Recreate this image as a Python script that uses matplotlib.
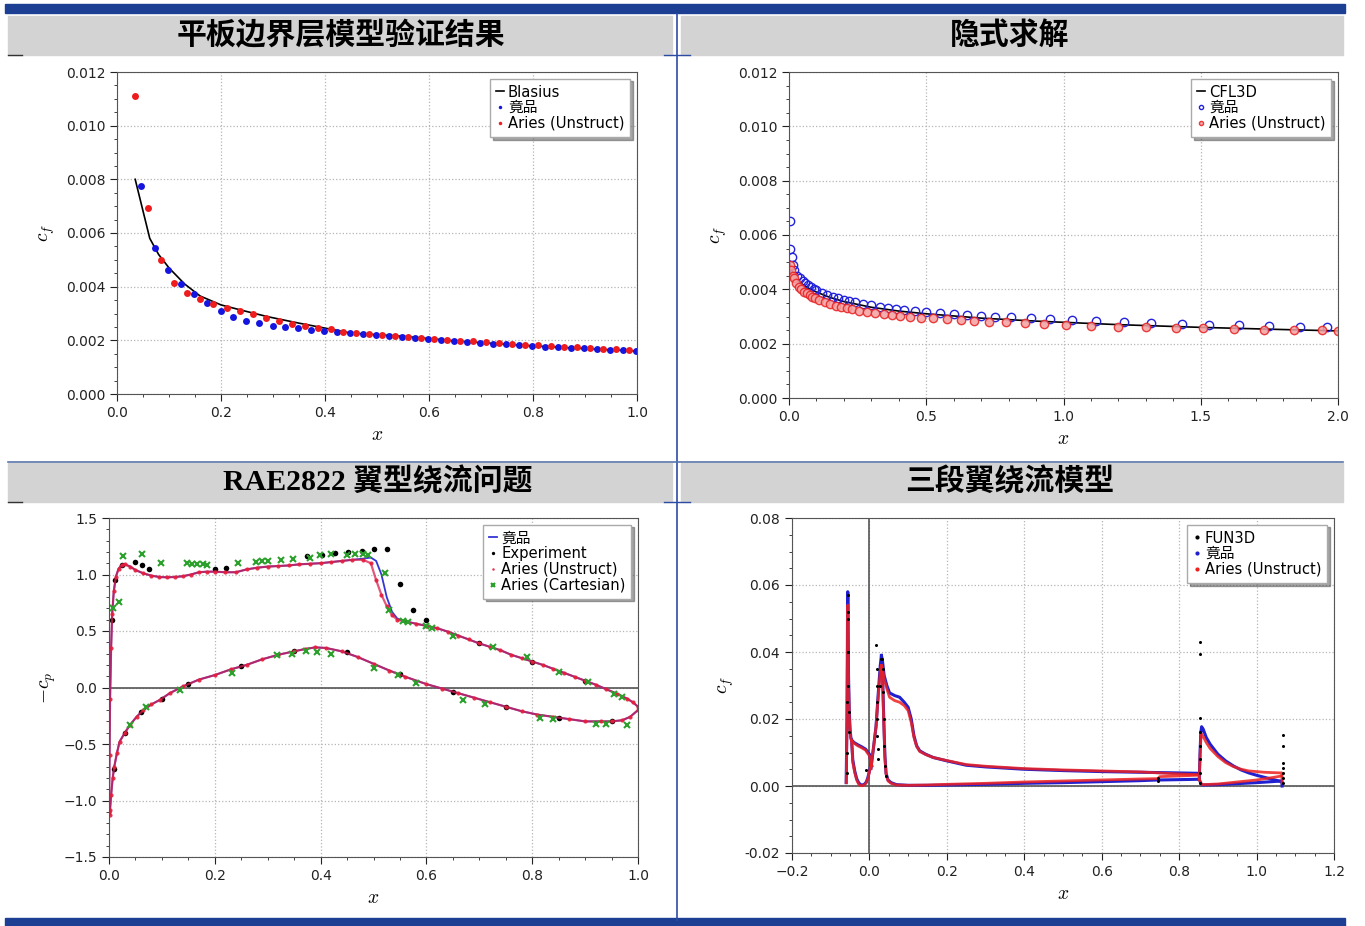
import matplotlib
matplotlib.use('Agg')
import matplotlib.pyplot as plt
from matplotlib.patches import Rectangle
from matplotlib.ticker import MultipleLocator, FormatStrFormatter

plt.rcParams['font.family'] = ['DejaVu Sans', 'Noto Sans CJK SC']
plt.rcParams['mathtext.fontset'] = 'cm'

# ---------------- panel 1 : flat plate ----------------
blasius_x = [0.035, 0.063, 0.08, 0.10, 0.13, 0.16, 0.20, 0.24, 0.29, 0.35, 0.45,
             0.55, 0.65, 0.75, 0.85, 1.0]
blasius_cf = [0.0080, 0.0058, 0.0052, 0.0047, 0.0041, 0.00365, 0.00332, 0.00312,
              0.00288, 0.00264, 0.00227, 0.00215, 0.00198, 0.00185, 0.00174, 0.00160]
jp1_x = [0.047, 0.073, 0.099, 0.123, 0.149, 0.174, 0.2, 0.224, 0.249, 0.274, 0.3,
         0.324, 0.349, 0.374, 0.399, 0.424, 0.449, 0.474, 0.499, 0.524, 0.549, 0.574,
         0.599, 0.624, 0.649, 0.674, 0.699, 0.724, 0.749, 0.774, 0.799, 0.824, 0.849,
         0.874, 0.899, 0.924, 0.949, 0.974, 0.999]
jp1_cf = [0.00775, 0.00545, 0.00462, 0.0041, 0.00373, 0.00338, 0.00309, 0.00288,
          0.00273, 0.00263, 0.00255, 0.00251, 0.00245, 0.0024, 0.00235, 0.00231,
          0.00227, 0.00223, 0.00219, 0.00215, 0.00211, 0.00207, 0.00204, 0.002,
          0.00197, 0.00194, 0.00191, 0.00188, 0.00185, 0.00182, 0.0018, 0.00177,
          0.00175, 0.00172, 0.0017, 0.00167, 0.00165, 0.00163, 0.00161]
ar1_x = [0.035, 0.06, 0.085, 0.11, 0.135, 0.16, 0.185, 0.211, 0.236, 0.262, 0.287,
         0.311, 0.337, 0.361, 0.386, 0.411, 0.435, 0.46, 0.485, 0.51, 0.535, 0.56,
         0.585, 0.61, 0.635, 0.66, 0.685, 0.71, 0.735, 0.76, 0.785, 0.81, 0.835,
         0.86, 0.885, 0.91, 0.935, 0.96, 0.985]
ar1_cf = [0.0111, 0.00694, 0.0050, 0.00415, 0.00378, 0.00355, 0.00335, 0.00322,
          0.00309, 0.00297, 0.00285, 0.00271, 0.00262, 0.00253, 0.00245, 0.00241,
          0.00232, 0.00229, 0.00225, 0.00221, 0.00217, 0.00213, 0.00209, 0.00205,
          0.00202, 0.00199, 0.00196, 0.00193, 0.0019, 0.00187, 0.00184, 0.00181,
          0.00179, 0.00176, 0.00174, 0.00171, 0.00169, 0.00167, 0.00165]

# ---------------- panel 2 : implicit solve ----------------
cfl3d_x = [0.002, 0.01, 0.02, 0.04, 0.07, 0.1, 0.15, 0.2, 0.3, 0.4, 0.5, 0.7, 0.9,
           1.2, 1.5, 1.8, 2.0]
cfl3d_cf = [0.0050, 0.0047, 0.0045, 0.00425, 0.00405, 0.0039, 0.0037, 0.00355,
            0.00334, 0.0032, 0.0031, 0.00294, 0.00283, 0.0027, 0.0026, 0.00252, 0.00247]
jp2_x = [0.002, 0.005, 0.01, 0.015, 0.02, 0.03, 0.04, 0.05, 0.06, 0.07, 0.08, 0.09,
         0.1, 0.12, 0.14, 0.16, 0.18, 0.2, 0.22, 0.24, 0.27, 0.3, 0.33, 0.36, 0.39,
         0.42, 0.46, 0.5, 0.55, 0.6, 0.65, 0.7, 0.75, 0.81, 0.88, 0.95, 1.03, 1.12,
         1.22, 1.32, 1.43, 1.53, 1.64, 1.75, 1.86, 1.96]
jp2_cf = [0.0065, 0.0055, 0.0052, 0.0049, 0.0047, 0.0045, 0.0044, 0.0043, 0.00422,
          0.00415, 0.00408, 0.00402, 0.00397, 0.00388, 0.0038, 0.00373, 0.00367,
          0.00361, 0.00356, 0.00352, 0.00346, 0.00341, 0.00336, 0.00332, 0.00328,
          0.00325, 0.00321, 0.00317, 0.00313, 0.00309, 0.00306, 0.00303, 0.003,
          0.00297, 0.00293, 0.0029, 0.00287, 0.00283, 0.0028, 0.00277, 0.00273,
          0.0027, 0.00267, 0.00265, 0.00262, 0.0026]
ar2_x = [0.003, 0.008, 0.013, 0.018, 0.025, 0.035, 0.045, 0.055, 0.065, 0.075, 0.085,
         0.095, 0.11, 0.13, 0.15, 0.17, 0.19, 0.21, 0.23, 0.255, 0.285, 0.315, 0.345,
         0.375, 0.405, 0.44, 0.48, 0.525, 0.575, 0.625, 0.675, 0.73, 0.79, 0.86, 0.93,
         1.01, 1.1, 1.2, 1.3, 1.41, 1.51, 1.62, 1.73, 1.84, 1.94, 2.0]
ar2_cf = [0.0049, 0.0047, 0.0045, 0.0044, 0.00425, 0.0041, 0.004, 0.0039, 0.00385,
          0.00378, 0.00372, 0.00367, 0.0036, 0.00352, 0.00345, 0.00339, 0.00334,
          0.0033, 0.00326, 0.00321, 0.00316, 0.00312, 0.00308, 0.00305, 0.00302,
          0.00299, 0.00296, 0.00293, 0.0029, 0.00287, 0.00284, 0.00281, 0.00278,
          0.00275, 0.00272, 0.00269, 0.00266, 0.00263, 0.0026, 0.00258, 0.00256,
          0.00254, 0.00252, 0.0025, 0.00249, 0.00246]

# ---------------- panel 3 : RAE2822 ----------------
up_x = [0.0, 0.001, 0.002, 0.004, 0.006, 0.009, 0.013, 0.018, 0.024, 0.03, 0.04,
        0.05, 0.065, 0.08, 0.095, 0.11, 0.125, 0.14, 0.155, 0.17, 0.185, 0.2, 0.22,
        0.24, 0.26, 0.28, 0.3, 0.32, 0.34, 0.36, 0.38, 0.4, 0.42, 0.44, 0.46, 0.48,
        0.495, 0.505, 0.515, 0.525, 0.535, 0.545, 0.56, 0.58, 0.6, 0.62, 0.64, 0.66,
        0.68, 0.7, 0.72, 0.74, 0.76, 0.78, 0.8, 0.82, 0.84, 0.86, 0.88, 0.9, 0.92,
        0.94, 0.96, 0.98, 0.99, 1.0]
jp3_up = [-1.1, -0.6, -0.1, 0.35, 0.65, 0.85, 0.98, 1.05, 1.085, 1.09, 1.07, 1.04,
          1.01, 0.99, 0.978, 0.975, 0.978, 0.985, 1.0, 1.02, 1.025, 1.025, 1.02, 1.02,
          1.045, 1.06, 1.07, 1.075, 1.08, 1.09, 1.095, 1.1, 1.11, 1.12, 1.13, 1.14,
          1.15, 1.12, 1.0, 0.80, 0.67, 0.61, 0.585, 0.565, 0.545, 0.525, 0.495, 0.46,
          0.425, 0.39, 0.36, 0.33, 0.29, 0.26, 0.23, 0.2, 0.165, 0.13, 0.095, 0.06,
          0.025, -0.015, -0.055, -0.1, -0.13, -0.17]
ar3_up = [-1.1, -0.6, -0.1, 0.35, 0.65, 0.85, 0.98, 1.05, 1.085, 1.09, 1.07, 1.04,
          1.01, 0.99, 0.978, 0.975, 0.978, 0.985, 1.0, 1.02, 1.025, 1.025, 1.02, 1.02,
          1.045, 1.06, 1.07, 1.075, 1.08, 1.09, 1.095, 1.1, 1.11, 1.12, 1.13, 1.13,
          1.1, 0.95, 0.82, 0.72, 0.64, 0.6, 0.585, 0.565, 0.545, 0.525, 0.495, 0.46,
          0.425, 0.39, 0.36, 0.33, 0.29, 0.26, 0.23, 0.2, 0.165, 0.13, 0.095, 0.06,
          0.025, -0.015, -0.055, -0.1, -0.13, -0.17]
lo_x = [0.0, 0.001, 0.002, 0.004, 0.007, 0.01, 0.015, 0.02, 0.03, 0.04, 0.052, 0.065,
        0.08, 0.096, 0.115, 0.14, 0.17, 0.2, 0.23, 0.26, 0.29, 0.32, 0.35, 0.37, 0.39,
        0.41, 0.44, 0.47, 0.5, 0.53, 0.56, 0.6, 0.63, 0.66, 0.69, 0.72, 0.75, 0.78,
        0.81, 0.84, 0.87, 0.9, 0.93, 0.95, 0.97, 0.985, 1.0]
jp3_lo = [-1.1, -1.13, -1.08, -0.95, -0.8, -0.7, -0.58, -0.48, -0.4, -0.33, -0.26,
          -0.2, -0.15, -0.11, -0.05, 0.01, 0.07, 0.11, 0.16, 0.2, 0.25, 0.29, 0.32,
          0.34, 0.355, 0.35, 0.32, 0.27, 0.21, 0.15, 0.095, 0.03, -0.01, -0.05, -0.09,
          -0.13, -0.17, -0.21, -0.24, -0.26, -0.28, -0.3, -0.3, -0.3, -0.29, -0.26, -0.2]
exp_x = [0.005, 0.012, 0.025, 0.049, 0.062, 0.076, 0.2, 0.222, 0.374, 0.402, 0.427,
         0.452, 0.478, 0.5, 0.525, 0.55, 0.575, 0.6, 0.7, 0.8, 0.9,
         0.01, 0.03, 0.06, 0.1, 0.15, 0.25, 0.35, 0.45, 0.55, 0.65, 0.75, 0.85, 0.95]
exp_cp = [0.6, 0.95, 1.08, 1.11, 1.08, 1.05, 1.05, 1.06, 1.16, 1.17, 1.19, 1.2, 1.21,
          1.23, 1.23, 0.92, 0.686, 0.6, 0.39, 0.23, 0.06,
          -0.72, -0.4, -0.22, -0.1, 0.03, 0.19, 0.32, 0.31, 0.12, -0.04, -0.17,
          -0.27, -0.3]
cart_x = [0.008, 0.018, 0.027, 0.062, 0.098, 0.147, 0.157, 0.167, 0.178, 0.186,
          0.244, 0.278, 0.29, 0.3, 0.326, 0.348, 0.38, 0.399, 0.42, 0.45, 0.465, 0.48,
          0.49, 0.522, 0.53, 0.555, 0.565, 0.6, 0.61, 0.65, 0.726, 0.79, 0.85, 0.905,
          0.955, 0.97,
          0.04, 0.07, 0.134, 0.232, 0.317, 0.345, 0.372, 0.393, 0.42, 0.5, 0.547, 0.58,
          0.67, 0.71, 0.815, 0.84, 0.92, 0.94, 0.98]
cart_cp = [0.7, 0.76, 1.16, 1.18, 1.10, 1.10, 1.09, 1.09, 1.09, 1.08, 1.10, 1.11,
           1.12, 1.12, 1.13, 1.14, 1.15, 1.17, 1.18, 1.17, 1.18, 1.18, 1.17, 1.01,
           0.69, 0.59, 0.58, 0.54, 0.53, 0.46, 0.36, 0.27, 0.14, 0.05, -0.06, -0.08,
           -0.33, -0.17, -0.02, 0.125, 0.29, 0.3, 0.32, 0.31, 0.3, 0.17, 0.11, 0.04,
           -0.11, -0.15, -0.27, -0.28, -0.32, -0.32, -0.33]

# ---------------- panel 4 : three-element airfoil ----------------
slat_up_x = [-0.06, -0.058, -0.057, -0.0565, -0.056, -0.0555, -0.0548, -0.054,
             -0.052, -0.05, -0.048, -0.046, -0.04, -0.03, -0.02, -0.01, 0.0, 0.006]
slat_up_jp = [0.001, 0.02, 0.04, 0.052, 0.058, 0.057, 0.045, 0.033, 0.022, 0.017,
              0.0145, 0.0137, 0.013, 0.0123, 0.0117, 0.011, 0.0095, 0.006]
slat_up_ar = [0.001, 0.018, 0.036, 0.048, 0.054, 0.053, 0.042, 0.031, 0.021, 0.016,
              0.014, 0.0135, 0.0128, 0.012, 0.0114, 0.0107, 0.009, 0.006]
slat_lo_x = [-0.046, -0.043, -0.038, -0.033, -0.028, -0.023, -0.018, -0.013, -0.008,
             -0.004, 0.0, 0.004]
slat_lo_jp = [0.0137, 0.0078, 0.0045, 0.0022, 0.001, 0.0004, 0.0003, 0.0005, 0.0012,
              0.0025, 0.0045, 0.0065]
slat_lo_ar = [0.0135, 0.007, 0.004, 0.0018, 0.0006, 0.0001, 0.0001, 0.0003, 0.001,
              0.0022, 0.0042, 0.0062]
main_up_x = [0.004, 0.01, 0.017, 0.023, 0.028, 0.031, 0.034, 0.038, 0.045, 0.052,
             0.065, 0.078, 0.09, 0.1, 0.108, 0.115, 0.122, 0.13, 0.145, 0.165, 0.2,
             0.25, 0.3, 0.4, 0.5, 0.6, 0.7, 0.8, 0.845]
main_up_jp = [0.0053, 0.011, 0.0177, 0.028, 0.036, 0.039, 0.037, 0.033, 0.030,
              0.0278, 0.027, 0.0265, 0.025, 0.0235, 0.02, 0.015, 0.012, 0.0105, 0.0095,
              0.0085, 0.0075, 0.0062, 0.0057, 0.005, 0.0046, 0.0043, 0.0041, 0.0039,
              0.0038]
main_up_ar = [0.0053, 0.011, 0.0177, 0.027, 0.034, 0.036, 0.035, 0.032, 0.029,
              0.0265, 0.0255, 0.025, 0.024, 0.0225, 0.019, 0.0145, 0.0118, 0.0103,
              0.0094, 0.0085, 0.0076, 0.0064, 0.0059, 0.0052, 0.0048, 0.0045, 0.0042,
              0.0036, 0.0034]
main_lo_x = [0.031, 0.034, 0.037, 0.04, 0.043, 0.048, 0.056, 0.07, 0.1, 0.15, 0.2,
             0.3, 0.4, 0.5, 0.6, 0.7, 0.745, 0.75, 0.8, 0.845]
main_lo_jp = [0.039, 0.033, 0.02, 0.009, 0.0038, 0.0018, 0.001, 0.0004, 0.0002,
              0.0002, 0.0003, 0.0005, 0.0008, 0.001, 0.0013, 0.0016, 0.0018, 0.0018,
              0.0019, 0.002]
main_lo_ar = [0.036, 0.031, 0.019, 0.0085, 0.0035, 0.0015, 0.0008, 0.0003, 0.0002,
              0.0003, 0.0005, 0.0008, 0.0012, 0.0015, 0.0018, 0.0021, 0.0022, 0.0028,
              0.003, 0.0032]
flap_up_x = [0.852, 0.854, 0.856, 0.858, 0.862, 0.87, 0.88, 0.9, 0.92, 0.94, 0.96,
             0.98, 1.0, 1.02, 1.04, 1.065, 1.066]
flap_up_jp = [0.002, 0.01, 0.016, 0.0177, 0.017, 0.0145, 0.0125, 0.0095, 0.0075,
              0.006, 0.0048, 0.0039, 0.0032, 0.0026, 0.002, 0.0013, 0.0]
flap_up_ar = [0.002, 0.009, 0.014, 0.0155, 0.0148, 0.013, 0.0112, 0.0088, 0.007,
              0.0058, 0.005, 0.0045, 0.0043, 0.0041, 0.004, 0.0039, 0.001]
flap_lo_x = [0.852, 0.856, 0.86, 0.9, 0.95, 1.0, 1.04, 1.065]
flap_lo_jp = [0.002, 0.0008, 0.0003, 0.0004, 0.0007, 0.001, 0.0013, 0.0015]
flap_lo_ar = [0.002, 0.0008, 0.0004, 0.0006, 0.0012, 0.0018, 0.0025, 0.003]
fun3d_x = [-0.0575, -0.057, -0.0565, -0.056, -0.0558, -0.0552, -0.0548, -0.0543,
           -0.054, -0.053, -0.058, -0.01,
           0.028, 0.03, 0.032, 0.034, 0.036, 0.037, 0.038, 0.04, 0.043,
           0.016, 0.02, 0.02, 0.02, 0.02, 0.02, 0.021, 0.021,
           0.855, 0.855, 0.855, 0.855, 0.855, 0.855, 0.855, 0.855,
           0.745, 0.745,
           1.068, 1.068, 1.068, 1.068, 1.068, 1.068, 1.068]
fun3d_cf = [0.01, 0.025, 0.04, 0.052, 0.057, 0.05, 0.04, 0.03, 0.022, 0.016, 0.004,
            0.0048,
            0.03, 0.038, 0.038, 0.035, 0.028, 0.02, 0.012, 0.006, 0.003,
            0.042, 0.035, 0.03, 0.025, 0.02, 0.015, 0.011, 0.008,
            0.043, 0.0394, 0.0202, 0.016, 0.012, 0.008, 0.004, 0.001,
            0.0015, 0.0025,
            0.0152, 0.012, 0.007, 0.0055, 0.004, 0.0025, 0.001]

W, H = 1365, 926
BLUE = '#1c3f93'


def rect(l, t, r, b):
    return [l / W, 1 - b / H, (r - l) / W, (b - t) / H]


def style(ax):
    ax.grid(True, which='major', color='#b5b5b5', ls=':', lw=0.9)
    ax.minorticks_on()
    ax.tick_params(which='both', direction='out', labelsize=10, colors='#222222')
    ax.tick_params(which='major', length=5)
    ax.tick_params(which='minor', length=2.5)
    for s in ax.spines.values():
        s.set_color('#555555')


def legend(ax, scale=0.6):
    ax.legend(loc='upper right', fontsize=10.6, handlelength=0.55, handletextpad=0.25,
              labelspacing=0.05, borderpad=0.4, borderaxespad=0.45, shadow=True,
              fancybox=False, framealpha=1, edgecolor='#aaaaaa', markerscale=scale)


fig = plt.figure(figsize=(13.65, 9.26), dpi=100)

# slide background: bars and separators
bg = fig.add_axes([0, 0, 1, 1])
bg.set_xlim(0, W)
bg.set_ylim(H, 0)
bg.axis('off')
bg.add_patch(Rectangle((5, 4), 1340, 9, color=BLUE))
bg.add_patch(Rectangle((5, 918), 1340, 8, color=BLUE))
for (l, t, r) in [(8, 16, 672), (681, 16, 1343), (8, 463, 672), (681, 463, 1343)]:
    bg.add_patch(Rectangle((l, t), r - l, 39, color='#d3d3d3'))
bg.plot([677, 677], [14, 920], color='#2c4ca3', lw=1.2)
bg.plot([8, 1343], [462, 462], color='#5a76ac', lw=1.2)
bg.plot([8, 22], [55, 55], color='#333333', lw=1)
bg.plot([664, 690], [55, 55], color='#2c4ca3', lw=1)
bg.plot([8, 22], [502, 502], color='#333333', lw=1)
bg.plot([664, 690], [502, 502], color='#2c4ca3', lw=1)

tfont = dict(fontsize=21.5, fontweight='bold', ha='center', va='center',
             family=['Liberation Serif', 'Noto Sans CJK SC'])
bg.text(341, 36, '平板边界层模型验证结果', **tfont)
bg.text(1010, 36, '隐式求解', **tfont)
bg.text(378, 482, 'RAE2822 翼型绕流问题', **tfont)
bg.text(1010, 482, '三段翼绕流模型', **tfont)

# panel 1
ax1 = fig.add_axes(rect(117, 72, 637, 394))
style(ax1)
ax1.plot(blasius_x, blasius_cf, color='black', lw=1.2, label='Blasius')
ax1.plot(jp1_x, jp1_cf, 'o', color='#1515e0', ms=5, mew=0, label='竟品')
ax1.plot(ar1_x, ar1_cf, 'o', color='#ee1c1c', ms=5, mew=0, label='Aries (Unstruct)')
ax1.set_xlim(0, 1)
ax1.set_ylim(0, 0.012)
ax1.xaxis.set_major_locator(MultipleLocator(0.2))
ax1.yaxis.set_major_locator(MultipleLocator(0.002))
ax1.yaxis.set_major_formatter(FormatStrFormatter('%.3f'))
ax1.set_xlabel('$x$', fontsize=14, labelpad=4)
ax1.set_ylabel('$c_f$', fontsize=14, labelpad=6)
legend(ax1, 0.5)

# panel 2
ax2 = fig.add_axes(rect(789, 72, 1338, 398))
style(ax2)
ax2.plot(cfl3d_x, cfl3d_cf, color='black', lw=1.2, label='CFL3D')
ax2.plot(jp2_x, jp2_cf, 'o', mfc='none', mec='#2222dd', ms=6, mew=1, label='竟品')
ax2.plot(ar2_x, ar2_cf, 'o', mfc='#f4a0a0', mec='#e82020', ms=6, mew=1,
         alpha=0.85, label='Aries (Unstruct)')
ax2.set_xlim(0, 2)
ax2.set_ylim(0, 0.012)
ax2.xaxis.set_major_locator(MultipleLocator(0.5))
ax2.yaxis.set_major_locator(MultipleLocator(0.002))
ax2.yaxis.set_major_formatter(FormatStrFormatter('%.3f'))
ax2.set_xlabel('$x$', fontsize=14, labelpad=4)
ax2.set_ylabel('$c_f$', fontsize=14, labelpad=6)
legend(ax2, 0.5)

# panel 3
ax3 = fig.add_axes(rect(109, 518, 638, 857))
style(ax3)
ax3.axhline(0, color='#555555', lw=1.2)
ax3.plot(up_x, jp3_up, color='#3535d5', lw=1.3, label='竟品')
ax3.plot(lo_x, jp3_lo, color='#3535d5', lw=1.3)
ax3.plot(exp_x, exp_cp, 'o', color='black', ms=4, mew=0, label='Experiment')
# unstructured results: dense points along both surfaces
ax3.plot(up_x, ar3_up, '-', color='#d8204e', lw=1.6, alpha=0.75)
ax3.plot(lo_x, jp3_lo, '-', color='#d8204e', lw=1.6, alpha=0.75)
ax3.plot(up_x, ar3_up, 'o', color='#e51e3c', ms=3, mew=0, alpha=0.9,
         label='Aries (Unstruct)')
ax3.plot(lo_x, jp3_lo, 'o', color='#e51e3c', ms=3, mew=0, alpha=0.9)
ax3.plot(cart_x, cart_cp, 'x', color='#2ca02c', ms=5, mew=1.5,
         label='Aries (Cartesian)')
ax3.set_xlim(0, 1)
ax3.set_ylim(-1.5, 1.5)
ax3.xaxis.set_major_locator(MultipleLocator(0.2))
ax3.yaxis.set_major_locator(MultipleLocator(0.5))
ax3.set_xlabel('$x$', fontsize=14, labelpad=4)
ax3.set_ylabel('$-c_p$', fontsize=14, labelpad=4)
legend(ax3, 0.6)

# panel 4
ax4 = fig.add_axes(rect(792, 518, 1334, 853))
style(ax4)
ax4.axhline(0, color='#555555', lw=1.2)
ax4.axvline(0, color='#555555', lw=1.2)
for xs, ys in [(slat_up_x, slat_up_jp), (slat_lo_x, slat_lo_jp),
               (main_up_x, main_up_jp), (main_lo_x, main_lo_jp),
               (flap_up_x, flap_up_jp), (flap_lo_x, flap_lo_jp)]:
    ax4.plot(xs, ys, color='#2020d0', lw=2.2)
for xs, ys in [(slat_up_x, slat_up_ar), (slat_lo_x, slat_lo_ar),
               (main_up_x, main_up_ar), (main_lo_x, main_lo_ar),
               (flap_up_x, flap_up_ar), (flap_lo_x, flap_lo_ar)]:
    ax4.plot(xs, ys, color='#ee2020', lw=2.0, alpha=0.85)
ax4.plot(fun3d_x, fun3d_cf, 'o', color='black', ms=2.2, mew=0)
ax4.plot([], [], 'o', color='black', ms=3, mew=0, label='FUN3D')
ax4.plot([], [], 'o', color='#2020d0', ms=3, mew=0, label='竟品')
ax4.plot([], [], 'o', color='#ee2020', ms=3, mew=0, label='Aries (Unstruct)')
ax4.set_xlim(-0.2, 1.2)
ax4.set_ylim(-0.02, 0.08)
ax4.xaxis.set_major_locator(MultipleLocator(0.2))
ax4.yaxis.set_major_locator(MultipleLocator(0.02))
ax4.yaxis.set_major_formatter(FormatStrFormatter('%.2f'))
ax4.set_xlabel('$x$', fontsize=14, labelpad=4)
ax4.set_ylabel('$c_f$', fontsize=14, labelpad=6)
legend(ax4, 1.0)

fig.savefig('out.png', dpi=100)
